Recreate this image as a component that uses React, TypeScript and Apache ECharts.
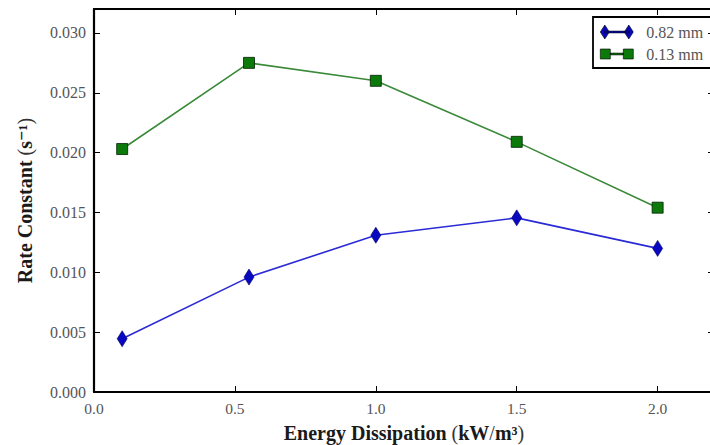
import React, { useEffect, useRef } from "react";
import * as echarts from "echarts";

const energy = [0.1, 0.55, 1.0, 1.5, 2.0];
const rate082 = [0.00445, 0.0096, 0.0131, 0.01455, 0.012];
const rate013 = [0.0203, 0.0275, 0.026, 0.0209, 0.0154];
const seriesNames = ["0.82 mm", "0.13 mm"];

const SERIF = "'Liberation Serif', 'DejaVu Serif', serif";

const diamondIcon =
  "path://M0,7L4.5,0L9,7L4.5,14Z M4,6.1L29,6.1L29,7.9L4,7.9Z M24,7L28.5,0L33,7L28.5,14Z";
const squareIcon =
  "path://M0,2L10,2L10,12L0,12Z M10,6.1L23,6.1L23,7.9L10,7.9Z M23,2L33,2L33,12L23,12Z";

export default function App() {
  const ref = useRef<HTMLDivElement>(null);
  useEffect(() => {
    if (!ref.current) return;
    const chart = echarts.init(ref.current, null, { renderer: "svg" });
    const axisLine = { show: true, onZero: false, lineStyle: { color: "#000", width: 2.2 } };
    const tick = { show: true, inside: true, length: 6, lineStyle: { color: "#000", width: 1 } };
    const titleStyle = {
      fontFamily: SERIF,
      fontSize: 20,
      fontWeight: "bold",
      color: "#1a1a1a",
      rich: {
        n: { fontFamily: SERIF, fontSize: 20, fontWeight: "normal", color: "#333" },
      },
    };
    chart.setOption({
      animation: false,
      backgroundColor: "#fff",
      grid: { left: 94, top: 9, right: -4, bottom: 53, containLabel: false, outerBoundsMode: "none" },
      legend: {
        orient: "vertical",
        left: 593,
        top: 17,
        padding: [7, 20, 6, 7],
        itemGap: 6,
        itemWidth: 33,
        itemHeight: 15,
        borderColor: "#000",
        borderWidth: 1.8,
        borderRadius: 0,
        itemStyle: { borderWidth: 0.6, borderColor: "#000" },
        textStyle: { fontFamily: SERIF, fontSize: 16, color: "#555", padding: [0, 0, 0, 8] },
        data: [
          { name: seriesNames[0], icon: diamondIcon },
          { name: seriesNames[1], icon: squareIcon },
        ],
      },
      xAxis: [
        {
          type: "value",
          min: 0,
          max: 2.2,
          interval: 0.5,
          name: "Energy Dissipation {n|(}kW{n|/}m³{n|)}",
          nameLocation: "middle",
          nameGap: 31,
          nameTextStyle: titleStyle,
          axisLine,
          axisTick: tick,
          splitLine: { show: false },
          axisLabel: {
            showMaxLabel: false,
            fontFamily: SERIF,
            fontSize: 15.5,
            color: "#555",
            margin: 8,
            formatter: (v: number) => v.toFixed(1),
          },
        },
        {
          type: "value",
          position: "top",
          min: 0,
          max: 2.2,
          interval: 0.5,
          axisLine,
          axisTick: tick,
          axisLabel: { show: false },
          splitLine: { show: false },
        },
      ],
      yAxis: [
        {
          type: "value",
          min: 0,
          max: 0.032,
          interval: 0.005,
          name: "Rate Constant {n|(}s⁻¹{n|)}",
          nameLocation: "middle",
          nameGap: 59,
          nameTextStyle: titleStyle,
          axisLine,
          axisTick: tick,
          splitLine: { show: false },
          axisLabel: {
            showMaxLabel: false,
            fontFamily: SERIF,
            fontSize: 16,
            color: "#555",
            margin: 8,
            formatter: (v: number) => v.toFixed(3),
          },
        },
        {
          type: "value",
          position: "right",
          min: 0,
          max: 0.032,
          interval: 0.005,
          axisLine,
          axisTick: tick,
          axisLabel: { show: false },
          splitLine: { show: false },
        },
      ],
      series: [
        {
          name: seriesNames[0],
          type: "line",
          data: energy.map((x, i) => [x, rate082[i]]),
          symbol: "diamond",
          symbolSize: [10, 16],
          lineStyle: { color: "#2a2ad6", width: 1.6 },
          itemStyle: { color: "#0808c0", borderColor: "#000060", borderWidth: 0.6 },
          z: 3,
        },
        {
          name: seriesNames[1],
          type: "line",
          data: energy.map((x, i) => [x, rate013[i]]),
          symbol: "rect",
          symbolSize: 11,
          lineStyle: { color: "#3a8a3a", width: 1.6 },
          itemStyle: { color: "#0b7a0b", borderColor: "#002000", borderWidth: 0.8 },
          z: 3,
        },
      ],
    });
    return () => chart.dispose();
  }, []);
  return (
    <div
      ref={ref}
      style={{ position: "absolute", left: 0, top: 0, width: 710, height: 445, background: "#fff" }}
    />
  );
}
